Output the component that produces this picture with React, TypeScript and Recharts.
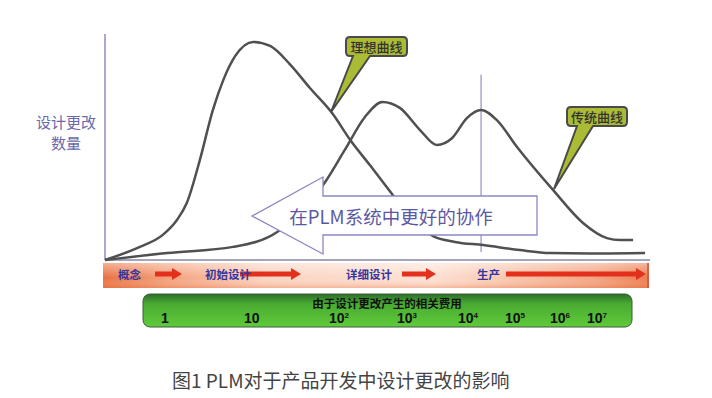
import { LineChart, Line, XAxis, YAxis, ReferenceLine } from "recharts";

// ideal curve (理想曲线): x / y in 0-100 units of the plot area
const IDEAL_X = [0, 6.4, 10.6, 13.2, 15.0, 17.4, 19.8, 21.7, 23.9, 27.2, 30.3, 33.9, 37.6, 41.8, 45.0, 48.6, 52.8, 56.9, 60.2, 64.2, 69.4, 76.1, 81.7, 90.8, 99.1];
const IDEAL_Y = [0, 5.8, 11.1, 17.7, 25.2, 44.2, 66.4, 79.6, 90.3, 96.5, 94.7, 86.7, 76.1, 64.6, 53.1, 42.0, 28.8, 16.8, 10.6, 8.0, 6.6, 4.4, 3.1, 2.9, 3.1];

// traditional curve (传统曲线)
const TRAD_X = [0, 11.4, 23.5, 31.6, 35.8, 40.4, 44.0, 47.7, 50.9, 54.1, 57.8, 60.9, 63.7, 66.4, 69.0, 71.9, 75.6, 82.2, 87.7, 92.1, 94.5, 96.9];
const TRAD_Y = [0, 3.1, 5.8, 12.4, 21.2, 34.5, 48.7, 63.3, 69.9, 67.3, 57.5, 50.9, 54.0, 62.8, 66.4, 61.9, 50.0, 31.0, 16.4, 9.7, 8.8, 8.8];

const PRODUCTION_X = 69;

const PHASES = ["概念", "初始设计", "详细设计", "生产"];
const COST_TITLE = "由于设计更改产生的相关费用";
const COST_BASE = ["1", "10", "10", "10", "10", "10", "10", "10"];
const COST_EXP = ["", "", "2", "3", "4", "5", "6", "7"];

const ideal = IDEAL_X.map((x, i) => ({ x, y: IDEAL_Y[i] }));
const trad = TRAD_X.map((x, i) => ({ x, y: TRAD_Y[i] }));

const W = 712;
const H = 398;
const FONT = "'Noto Sans CJK SC', 'Noto Sans', sans-serif";
const BOLD_FONT = "'Liberation Sans', 'Noto Sans CJK SC', Arial, sans-serif";

function calloutPath(x0: number, y0: number, x1: number, y1: number, b1: number, b2: number, tx: number, ty: number) {
  const r = 4;
  return `M ${x0 + r} ${y0} H ${x1 - r} Q ${x1} ${y0} ${x1} ${y0 + r} V ${y1 - r} Q ${x1} ${y1} ${x1 - r} ${y1} H ${b2} L ${tx} ${ty} L ${b1} ${y1} H ${x0 + r} Q ${x0} ${y1} ${x0} ${y1 - r} V ${y0 + r} Q ${x0} ${y0} ${x0 + r} ${y0} Z`;
}

function RedArrow({ x1, x2, y }: { x1: number; x2: number; y: number }) {
  const head = 10;
  const pts = [
    [x1, y - 2.5],
    [x2 - head, y - 2.5],
    [x2 - head, y - 6],
    [x2, y],
    [x2 - head, y + 6],
    [x2 - head, y + 2.5],
    [x1, y + 2.5],
  ]
    .map((p) => p.join(","))
    .join(" ");
  return <polygon points={pts} fill="#e2301c" />;
}

const PHASE_X = [118, 205, 346, 477];
const ARROWS = [
  [155, 182],
  [240, 301],
  [402, 436],
  [506, 646],
];
const COST_X = [161, 244, 329, 397, 458, 505, 550, 587];

export default function App() {
  return (
    <div style={{ position: "absolute", left: 0, top: 0, width: W, height: H, background: "#fff" }}>
      <LineChart width={W} height={H} margin={{ top: 34, right: 62, bottom: 138, left: 105 }}>
        <XAxis type="number" dataKey="x" domain={[0, 100]} hide />
        <YAxis type="number" dataKey="y" domain={[0, 100]} hide />
        <ReferenceLine y={0} stroke="#a4a4bc" strokeWidth={2} />
        <ReferenceLine x={0} stroke="#8c8cc0" strokeWidth={1.5} />
        <ReferenceLine
          segment={[
            { x: PRODUCTION_X, y: 3.5 },
            { x: PRODUCTION_X, y: 82 },
          ]}
          stroke="#7c7cb0"
          strokeWidth={1}
        />
        <Line data={trad} dataKey="y" type="monotone" stroke="#505050" strokeWidth={2.5} dot={false} isAnimationActive={false} />
        <Line data={ideal} dataKey="y" type="monotone" stroke="#505050" strokeWidth={2.5} dot={false} isAnimationActive={false} />
      </LineChart>

      <svg width={W} height={H} style={{ position: "absolute", left: 0, top: 0, pointerEvents: "none" }}>
        <defs>
          <linearGradient id="orangeH" x1="0" y1="0" x2="1" y2="0">
            <stop offset="0" stopColor="#e8703f" />
            <stop offset="0.12" stopColor="#f3a07a" />
            <stop offset="0.3" stopColor="#fbd3c0" />
            <stop offset="0.6" stopColor="#fde0d2" />
            <stop offset="0.75" stopColor="#f8c4aa" />
            <stop offset="0.9" stopColor="#f3a380" />
            <stop offset="1" stopColor="#ec7a4c" />
          </linearGradient>
          <linearGradient id="orangeV" x1="0" y1="0" x2="0" y2="1">
            <stop offset="0" stopColor="#ffffff" stopOpacity="0.45" />
            <stop offset="0.6" stopColor="#ffffff" stopOpacity="0" />
            <stop offset="1" stopColor="#e8703f" stopOpacity="0.35" />
          </linearGradient>
          <linearGradient id="greenV" x1="0" y1="0" x2="0" y2="1">
            <stop offset="0" stopColor="#2d6e2a" />
            <stop offset="0.3" stopColor="#49ab32" />
            <stop offset="1" stopColor="#5fcb3a" />
          </linearGradient>
        </defs>

        {/* y axis label */}
        <text x={66} y={121} textAnchor="middle" dominantBaseline="central" fontFamily={FONT} fontSize={15} fill="#6a6aaa">
          设计更改
        </text>
        <text x={66} y={142} textAnchor="middle" dominantBaseline="central" fontFamily={FONT} fontSize={15} fill="#6a6aaa">
          数量
        </text>

        {/* collaboration arrow */}
        <polygon
          points="252,216 323,177 323,196 537,196 537,235 323,235 323,254"
          fill="#ffffff"
          stroke="#8a88c2"
          strokeWidth={1.3}
        />
        <text x={391} y={216} textAnchor="middle" dominantBaseline="central" fontFamily={FONT} fontSize={18.5} fill="#5b58a3">
          在PLM系统中更好的协作
        </text>

        {/* callouts */}
        <path d={calloutPath(346, 37, 407, 56, 353, 370, 331, 112)} fill="#abbb34" stroke="#4a4a4a" strokeWidth={2} />
        <text x={376.5} y={46.5} textAnchor="middle" dominantBaseline="central" fontFamily={FONT} fontWeight={500} fontSize={13} fill="#333">
          理想曲线
        </text>
        <path d={calloutPath(567, 107, 627, 126, 577, 593, 554, 189)} fill="#abbb34" stroke="#4a4a4a" strokeWidth={2} />
        <text x={597} y={116.5} textAnchor="middle" dominantBaseline="central" fontFamily={FONT} fontWeight={500} fontSize={13} fill="#333">
          传统曲线
        </text>

        {/* phase band */}
        <rect x={103} y={263} width={546} height={25} fill="url(#orangeH)" />
        <rect x={103} y={263} width={546} height={25} fill="url(#orangeV)" />
        <line x1={648} y1={263} x2={648} y2={288} stroke="#d0503a" strokeWidth={1.5} />
        {ARROWS.map(([a, b], i) => (
          <RedArrow key={i} x1={a} x2={b} y={274} />
        ))}
        {PHASES.map((p, i) => (
          <text key={p} x={PHASE_X[i]} y={274} dominantBaseline="central" fontFamily={FONT} fontWeight="bold" fontSize={11.5} fill="#3535a0">
            {p}
          </text>
        ))}

        {/* cost band */}
        <rect x={143} y={294} width={489} height={33} rx={7} fill="url(#greenV)" stroke="#3c5c3a" strokeWidth={1} />
        <text x={387} y={302.5} textAnchor="middle" dominantBaseline="central" fontFamily={FONT} fontWeight="bold" fontSize={11.5} fill="#111">
          {COST_TITLE}
        </text>
        {COST_BASE.map((b, i) => (
          <text key={i} x={COST_X[i]} y={323} fontFamily={BOLD_FONT} fontWeight="bold" fontSize={14} fill="#111">
            {b}
            {COST_EXP[i] && (
              <tspan dy={-5} fontSize={8}>
                {COST_EXP[i]}
              </tspan>
            )}
          </text>
        ))}

        {/* caption */}
        <text x={172} y={379} dominantBaseline="central" fontFamily={FONT} fontSize={19} fill="#444">
          图1 PLM对于产品开发中设计更改的影响
        </text>
      </svg>
    </div>
  );
}
